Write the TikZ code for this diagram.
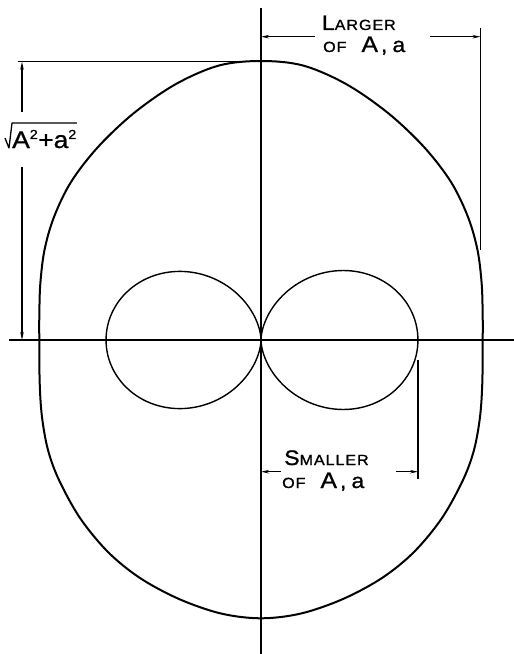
\documentclass[tikz,border=0pt]{standalone}
\usepackage{fontspec}
\setmainfont{Liberation Sans}[FakeStretch=1.1, FakeBold=1]
\usetikzlibrary{arrows.meta}
\newcommand\lbig[1]{{\fontsize{21}{21}\selectfont #1}}
\newcommand\lbigA[1]{{\fontsize{22.5}{22.5}\selectfont #1}}
\newcommand\lsml[1]{{\fontsize{14.7}{14.7}\selectfont #1}}
\newcommand\lowa{{\fontsize{21}{21}\selectfont a}}
\begin{document}
\begin{tikzpicture}[x=1pt,y=1pt,
  axis/.style={line width=1.8pt},
  outer/.style={line width=2pt, line join=round},
  lobe/.style={line width=1.4pt},
  dim/.style={line width=1.1pt},
  dimarrow/.style={dim,-{Stealth[length=8pt,width=3.5pt]}},
  lbl/.style={anchor=base west, inner sep=0pt, font=\addfontfeature{LetterSpace=6}}]
\useasboundingbox (-261,-314) rectangle (253,340);
% axes
\coordinate (xl) at (-252,0); \coordinate (xr) at (253,0);
\coordinate (yt) at (0,332); \coordinate (yb) at (0,-314);
\draw[axis] (xl) -- (xr);
\draw[axis] (yt) -- (yb);
% outer curve
\draw[outer] plot[smooth cycle, tension=0.55] coordinates {
 (0,279) (42,274.5) (85,256) (127,227) (163,193) (190,158) (207,123) (216.5,90) (220.7,56) (221.7,23) (221.7,0)
 (221.3,-43) (219,-77) (213,-110) (202,-140) (181,-178) (153,-212) (121,-238) (82,-259) (40,-273.5) (0,-278.3)
 (-40,-273.5) (-82,-259) (-121,-238) (-153,-212) (-181,-178) (-202,-140) (-213,-110) (-219,-77) (-221.3,-43) (-221.7,0)
 (-221.7,23) (-220.7,56) (-216.5,90) (-207,123) (-190,158) (-163,193) (-127,227) (-85,256) (-42,274.5)};
% lobes
\draw[lobe] plot[domain=-89.5:89.5, samples=121, smooth] ({157*(cos(\x))^2.4},{157*(cos(\x))^1.4*sin(\x)}) -- cycle;
\draw[lobe] plot[domain=-89.5:89.5, samples=121, smooth] ({-155*(cos(\x))^2.4},{155*(cos(\x))^1.4*sin(\x)}) -- cycle;
% top dimension: larger of A, a
\coordinate (tl) at (0,303.3); \coordinate (tlt) at (54,303.3);
\coordinate (trt) at (169,303.3); \coordinate (tr) at (219.5,303.3);
\coordinate (te1) at (219.5,312); \coordinate (te2) at (219.5,90);
\draw[dim] (te1) -- (te2);
\draw[dimarrow] (tlt) -- (tl);
\draw[dimarrow] (trt) -- (tr);
\node[lbl] (larger) at (60.7,310) {\lbig{L}\lsml{ARGER}};
\node[lbl] (ofA1) at (62,288) {\lsml{OF}\hspace{15pt}\lbigA{A}\hspace{3pt}\lbig{,}\hspace{5pt}\lowa};
% left dimension: sqrt(A^2+a^2)
\coordinate (le1) at (-243,278.3); \coordinate (le2) at (-22,278.3);
\draw[dim] (le1) -- (le2);
\coordinate (lt) at (-239,278.3); \coordinate (ltt) at (-239,228.3);
\coordinate (lb) at (-239,0); \coordinate (lbt) at (-239,173.3);
\draw[dimarrow] (ltt) -- (lt);
\draw[dimarrow] (lbt) -- (lb);
\node[anchor=base west, inner sep=0pt] (sq) at (-249,192)
  {\fontsize{24}{24}\selectfont A\textsuperscript{\fontsize{13}{13}\selectfont 2}+a\textsuperscript{\fontsize{13}{13}\selectfont 2}};
\coordinate (r1) at (-256,202); \coordinate (r2) at (-252,192);
\coordinate (r3) at (-249,217); \coordinate (r4) at (-184,217);
\draw[line width=1.3pt, line join=round] (r1) -- (r2) -- (r3) -- (r4);
% bottom dimension: smaller of A, a
\coordinate (be1) at (157,-20); \coordinate (be2) at (157,-139);
\draw[dim] (be1) -- (be2);
\coordinate (bl) at (0,-131.7); \coordinate (blt) at (20,-131.7);
\coordinate (br) at (157,-131.7); \coordinate (brt) at (135,-131.7);
\draw[dimarrow] (blt) -- (bl);
\draw[dimarrow] (brt) -- (br);
\node[lbl] (smaller) at (23,-125) {\lbig{S}\lsml{MALLER}};
\node[lbl] (ofA2) at (21,-148) {\lsml{OF}\hspace{15pt}\lbigA{A}\hspace{3pt}\lbig{,}\hspace{5pt}\lowa};
\end{tikzpicture}
\end{document}
